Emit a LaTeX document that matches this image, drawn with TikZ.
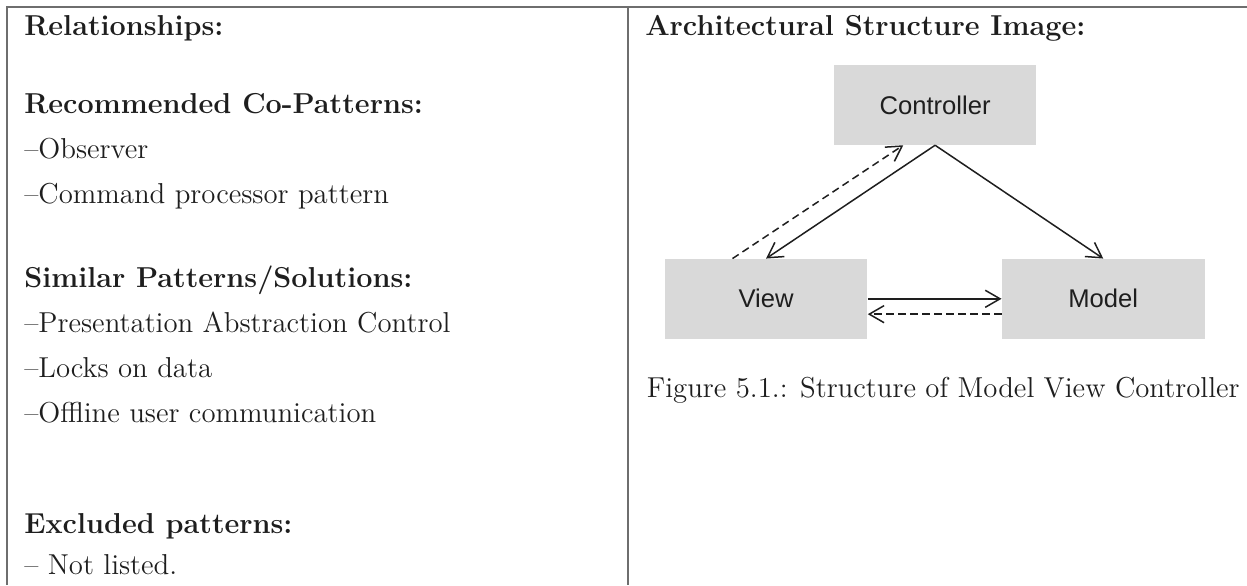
\documentclass[tikz,border=0pt]{standalone}
\usepackage{fontspec}
\setsansfont{Liberation Sans}
\usetikzlibrary{arrows.meta,positioning}
\definecolor{mvcgray}{HTML}{D9D9D9}
\definecolor{mvcink}{HTML}{1E1E1E}
\definecolor{rulegray}{HTML}{6E6E6E}

\begin{document}
\begin{tikzpicture}[
  node distance=2.35cm,
  mvcbox/.style={rectangle, fill=mvcgray, minimum width=3.56cm, minimum height=1.40cm, text=mvcink, font=\fontsize{12.8}{15}\selectfont\sffamily},
  heading/.style={anchor=base west, inner sep=0pt, text=mvcink, font=\fontsize{14.4}{17}\selectfont\bfseries},
  entry/.style={anchor=base west, inner sep=0pt, text=mvcink, font=\fontsize{14.4}{17}\selectfont},
  rule/.style={rulegray, line width=1pt},
  edge/.style={-{Straight Barb[length=2.6mm, width=3mm]}, line width=0.75pt, mvcink},
  back/.style={edge, dash pattern=on 3.7pt off 2.3pt},
]
  \useasboundingbox (0,0) rectangle (21.91,-10.28);

  % table rules
  \draw[rule] (0.12,-10.28) |- (21.91,-0.12);
  \draw[rule] (11.03,-0.12) -- (11.03,-10.28);

  % left column
  \node[heading] (rel) at (0.42,-0.62) {Relationships:};
  \node[heading] (reco) at (0.42,-1.99) {Recommended Co-Patterns:};
  \node[entry] (obs) at (0.42,-2.78) {--Observer};
  \node[entry] (cmd) at (0.42,-3.57) {--Command processor pattern};
  \node[heading] (sim) at (0.42,-5.06) {Similar Patterns/Solutions:};
  \node[entry] (pac) at (0.42,-5.85) {--Presentation Abstraction Control};
  \node[entry] (lock) at (0.42,-6.64) {--Locks on data};
  \node[entry] (offl) at (0.42,-7.43) {--Offline user communication};
  \node[heading] (excl) at (0.42,-9.37) {Excluded patterns:};
  \node[entry] (none) at (0.42,-10.10) {-- Not listed.};

  % right column
  \node[heading] (arch) at (11.33,-0.62) {Architectural Structure Image:};
  \node[mvcbox] (ctrl) at (16.43,-1.845) {Controller};
  \node[mvcbox] (view) at (13.46,-5.25) {View};
  \node[mvcbox, right=of view] (model) {Model};
  \node[entry] (cap) at (11.36,-6.99) {Figure 5.1.: Structure of Model View Controller};

  \draw[edge] (ctrl.south) -- (view.north);
  \draw[edge] (ctrl.south) -- (model.north);
  \draw[back] ([xshift=-0.59cm]view.north) -- ([xshift=-0.56cm]ctrl.south);
  \draw[edge] (view.east) -- (model.west);
  \draw[back] ([yshift=-0.27cm]model.west) -- ([yshift=-0.27cm]view.east);
\end{tikzpicture}
\end{document}
